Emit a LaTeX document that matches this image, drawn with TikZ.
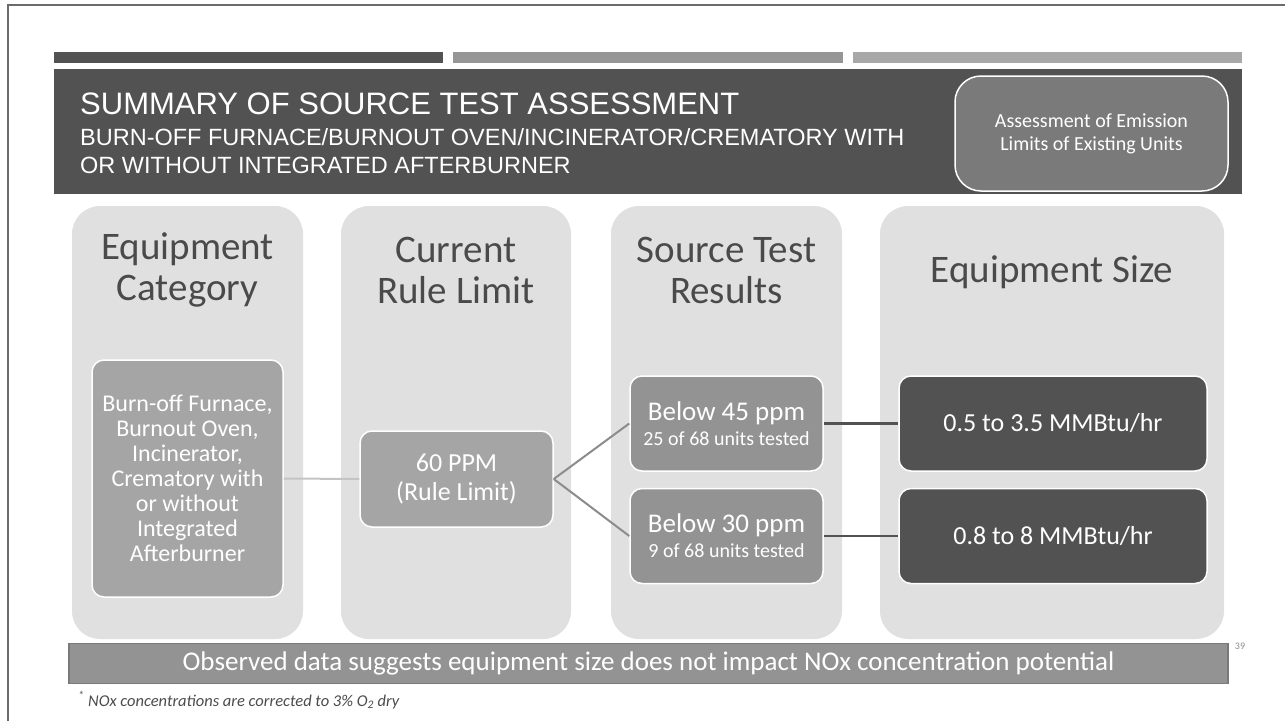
\documentclass[tikz,border=0pt]{standalone}
\usepackage{fontspec}
\setmainfont{Carlito}
\newfontfamily\headfont{Liberation Sans}
\usetikzlibrary{positioning}
\definecolor{slatedark}{HTML}{525252}
\definecolor{barmid}{HTML}{969696}
\definecolor{barlight}{HTML}{A8A8A8}
\definecolor{colfill}{HTML}{E0E0E0}
\definecolor{headtext}{HTML}{4A4A4A}
\definecolor{boxmid}{HTML}{A5A5A5}
\definecolor{boxres}{HTML}{939393}
\definecolor{tagfill}{HTML}{7A7A7A}
\definecolor{linklight}{HTML}{C4C4C4}
\definecolor{linkmid}{HTML}{8C8C8C}
\tikzset{
  column/.style={fill=colfill, rounded corners=28pt, minimum height=433pt, inner sep=0pt},
  colhead/.style={text=headtext, align=center, font=\fontsize{39}{41}\selectfont},
  itembox/.style={draw=white, line width=1.5pt, rounded corners=12pt, text=white,
    align=center, minimum width=193pt, minimum height=95pt, inner sep=2pt},
  sizebox/.style={itembox, fill=slatedark, minimum width=308pt, font=\fontsize{26}{28}\selectfont},
  link/.style={line width=2pt}
}
\begin{document}
\begin{tikzpicture}[x=1pt,y=-1pt]
  \useasboundingbox[fill=white] (0,0) rectangle (1285,721);
  \draw[line width=2pt, color=black!58] (8,721) -- (8,5) -- (1285,5);

  % title band
  \fill[slatedark] (54,52) rectangle (443,63);
  \fill[barmid] (453,52) rectangle (843,63);
  \fill[barlight] (853,52) rectangle (1242,63);
  \fill[slatedark] (54,69) rectangle (1242,194);
  \node[anchor=base west, inner sep=0pt, text=white, font=\headfont\fontsize{31}{34}\selectfont] (title) at (80,114) {SUMMARY OF SOURCE TEST ASSESSMENT};
  \node[anchor=base west, inner sep=0pt, text=white, font=\headfont\fontsize{23.5}{26}\selectfont] (subA) at (80,145) {BURN-OFF FURNACE/BURNOUT OVEN/INCINERATOR/CREMATORY WITH};
  \node[anchor=base west, inner sep=0pt, text=white, font=\headfont\fontsize{23.5}{26}\selectfont] (subB) at (80,173) {OR WITHOUT INTEGRATED AFTERBURNER};
  \node[fill=tagfill, draw=white, line width=1.5pt, rounded corners=26pt, minimum width=273pt, minimum height=115pt,
    text=white, align=center, font=\fontsize{20}{23}\selectfont] (assess) at (1091.5,133.5) {Assessment of Emission\\Limits of Existing Units};

  % columns
  \node[column, minimum width=231pt] (catcol) at (187.5,422.5) {};
  \node[column, minimum width=230pt] (limcol) at (456,422.5) {};
  \node[column, minimum width=231pt] (rescol) at (726.5,422.5) {};
  \node[column, minimum width=344pt] (sizecol) at (1052,422.5) {};
  \node[colhead] (cathead) at (187.5,270) {Equipment\\Category};
  \node[colhead] (limhead) at (456,270) {Current\\Rule Limit};
  \node[colhead] (reshead) at (726.5,270) {Source Test\\Results};
  \node[colhead] (sizehead) at (1052,272) {Equipment Size};

  % boxes
  \node[itembox, fill=boxmid, minimum width=191pt, minimum height=237pt, font=\fontsize{24}{25}\selectfont] (cat) at (187.5,478.5)
    {Burn-off Furnace,\\Burnout Oven,\\Incinerator,\\Crematory with\\or without\\Integrated\\Afterburner};
  \node[itembox, fill=boxmid, minimum height=96pt, font=\fontsize{26}{29}\selectfont] (lim) at (456.5,479) {60 PPM\\(Rule Limit)};
  \node[itembox, fill=boxres, font=\fontsize{27}{25}\selectfont] (b45) at (726.5,423.5)
    {Below 45 ppm\\{\fontsize{20}{25}\selectfont 25 of 68 units tested}};
  \node[itembox, fill=boxres, font=\fontsize{27}{25}\selectfont, below=16pt of b45] (b30)
    {Below 30 ppm\\{\fontsize{20}{25}\selectfont 9 of 68 units tested}};
  \node[sizebox] (small) at (1053,423.5) {0.5 to 3.5 MMBtu/hr};
  \node[sizebox, below=16pt of small] (large) {0.8 to 8 MMBtu/hr};

  \draw[link, linklight] (cat.east) -- (lim.west);
  \draw[link, linkmid] (lim.east) -- (b45.west);
  \draw[link, linkmid] (lim.east) -- (b30.west);
  \draw[link, line width=2.5pt, slatedark] (b45.east) -- (small.west);
  \draw[link, line width=2.5pt, slatedark] (b30.east) -- (large.west);

  % footer
  \node[fill=boxres, draw=tagfill, line width=1.5pt, minimum width=1159pt, minimum height=40pt, inner sep=0pt,
    text=white, font=\fontsize{27}{29}\selectfont] (remark) at (648.5,663.5)
    {Observed data suggests equipment size does not impact NOx concentration potential};
  \node[anchor=base west, inner sep=0pt, text=black!70, font=\itshape\fontsize{16.5}{18}\selectfont] (footnote) at (78,706)
    {\textsuperscript{*} NOx concentrations are corrected to 3\% O\textsubscript{2} dry};
  \node[inner sep=0pt, text=black!45, font=\fontsize{10}{12}\selectfont] (pageno) at (1240,646) {39};
\end{tikzpicture}
\end{document}
